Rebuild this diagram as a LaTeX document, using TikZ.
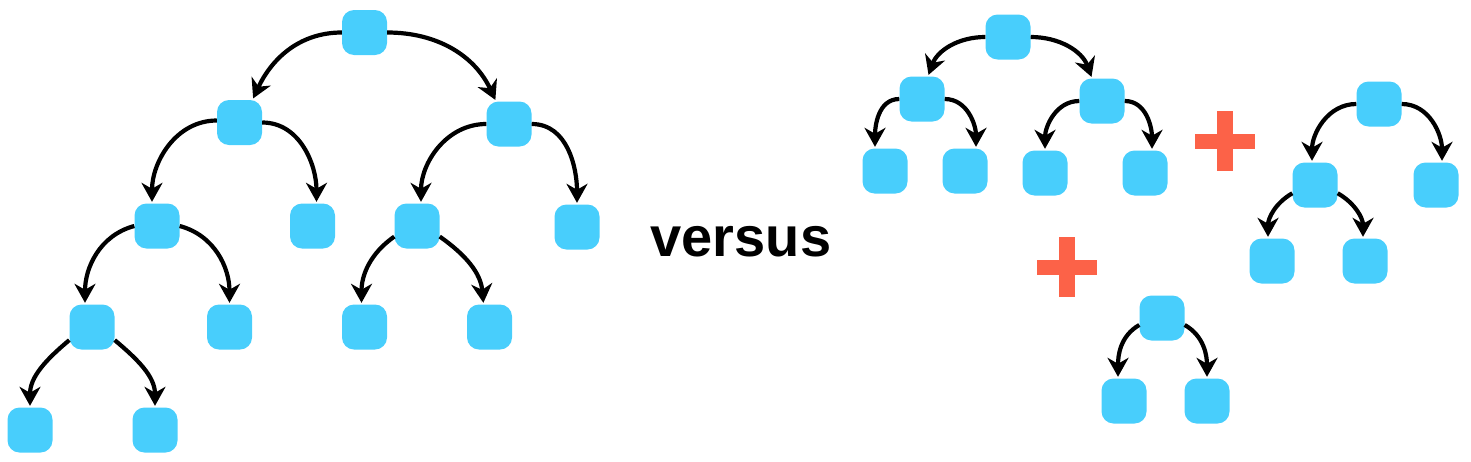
\documentclass[tikz,border=0pt]{standalone}
\usepackage{fontspec}
\setmainfont{Liberation Sans}
\usetikzlibrary{arrows.meta}
\definecolor{boxblue}{RGB}{72,206,252}
\definecolor{plusred}{RGB}{252,98,72}
\begin{document}
\begin{tikzpicture}[x=1pt,y=1pt,
  tnode/.style={fill=boxblue,rounded corners=12pt,minimum width=45pt,minimum height=45pt,inner sep=0pt,draw=none},
  arr/.style={line width=4.2pt,-{Stealth[length=19pt,width=21pt,inset=6pt]},shorten >=1.5pt},
  plus/.pic={\fill[plusred] (-30,-7.5) rectangle (30,7.5); \fill[plusred] (-8,-30) rectangle (8,30);}
]
\useasboundingbox (0,0) rectangle (1471,-461);
% left tree
\node[tnode] (R) at (364.5,-32.5) {};
\node[tnode] (A) at (239.5,-122.5) {};
\node[tnode] (B) at (509,-124) {};
\node[tnode] (A1) at (157,-226) {};
\node[tnode] (A2) at (312.5,-226) {};
\node[tnode] (B1) at (417,-226) {};
\node[tnode] (B2) at (577,-227) {};
\node[tnode] (A11) at (92,-327) {};
\node[tnode] (A12) at (229.5,-327) {};
\node[tnode] (B11) at (364.5,-327) {};
\node[tnode] (B12) at (489.5,-327) {};
\node[tnode] (A111) at (30,-430) {};
\node[tnode] (A112) at (155,-430) {};
\draw[arr] (R.west) to[out=180,in=65] ([xshift=13pt]A.north);
\draw[arr] (R.east) to[out=0,in=115] ([xshift=-13pt]B.north);
\draw[arr] (A.175) to[out=180,in=90] ([xshift=-5pt]A1.north);
\draw[arr] (A.east) to[out=0,in=90] ([xshift=4pt]A2.north);
\draw[arr] (B.west) to[out=180,in=90] ([xshift=4pt]B1.north);
\draw[arr] (B.east) to[out=0,in=90] (B2.north);
\draw[arr] (A1.west) to[out=195,in=90] ([xshift=-7pt]A11.north);
\draw[arr] (A1.east) to[out=-15,in=90] (A12.north);
\draw[arr] (B1.205) to[out=215,in=90] ([xshift=-3pt]B11.north);
\draw[arr] (B1.-25) to[out=-35,in=95] ([xshift=-6pt]B12.north);
\draw[arr] (A11.210) to[out=220,in=90] (A111.north);
\draw[arr] (A11.-30) to[out=-40,in=90] (A112.north);
% versus
\node[anchor=base,font=\fontsize{56}{60}\selectfont\bfseries,inner sep=0pt] (vs) at (741,-256) {versus};
% tree T
\node[tnode] (T) at (1008,-37) {};
\node[tnode] (TL) at (922,-99) {};
\node[tnode] (TR) at (1102,-101) {};
\node[tnode] (TLL) at (885,-171) {};
\node[tnode] (TLR) at (965,-171) {};
\node[tnode] (TRL) at (1045,-173) {};
\node[tnode] (TRR) at (1145,-173) {};
\draw[arr] (T.west) to[out=180,in=70] ([xshift=6pt]TL.north);
\draw[arr] (T.east) to[out=0,in=110] ([xshift=-10pt]TR.north);
\draw[arr] (TL.west) to[out=180,in=90] ([xshift=-10pt]TLL.north);
\draw[arr] (TL.east) to[out=0,in=90] ([xshift=11pt]TLR.north);
\draw[arr] (TR.west) to[out=180,in=90] (TRL.north);
\draw[arr] (TR.east) to[out=0,in=90] ([xshift=7pt]TRR.north);
% tree U
\node[tnode] (U) at (1379,-104) {};
\node[tnode] (UL) at (1315,-185) {};
\node[tnode] (UR) at (1436,-185) {};
\node[tnode] (ULL) at (1272,-261) {};
\node[tnode] (ULR) at (1365,-261) {};
\draw[arr] (U.west) to[out=180,in=90] ([xshift=-3pt]UL.north);
\draw[arr] (U.east) to[out=0,in=90] ([xshift=6pt]UR.north);
\draw[arr] (UL.200) to[out=210,in=90] ([xshift=-4pt]ULL.north);
\draw[arr] (UL.-20) to[out=-30,in=90] ([xshift=-2pt]ULR.north);
% tree V
\node[tnode] (V) at (1162,-318) {};
\node[tnode] (VL) at (1124,-401) {};
\node[tnode] (VR) at (1207,-401) {};
\draw[arr] (V.197) to[out=210,in=90] ([xshift=-6pt]VL.north);
\draw[arr] (V.-17) to[out=-30,in=90] (VR.north);
% plus signs
\pic at (1225,-141) {plus};
\pic at (1067,-267) {plus};
\end{tikzpicture}
\end{document}
